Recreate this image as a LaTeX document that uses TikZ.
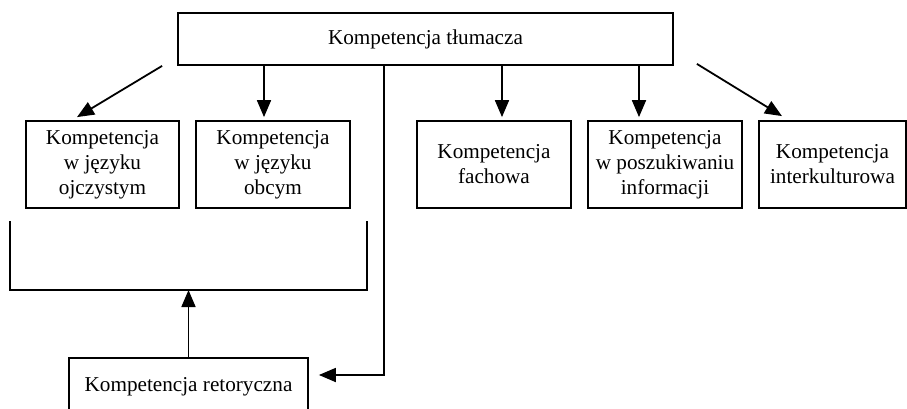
\documentclass[tikz,border=0pt]{standalone}
\usepackage{fontspec}
\setmainfont{Liberation Serif}
\usetikzlibrary{arrows.meta,calc}

\begin{document}
\begin{tikzpicture}[x=0.5pt, y=-0.5pt,
    pole/.style={draw, line width=0.9pt, align=center, inner sep=0pt,
        font=\fontsize{10.6}{12.5}\selectfont},
    wiersz/.style={pole, minimum width=77pt, minimum height=43.5pt},
    pil/.style={-{Triangle[length=8.5pt,width=7pt]}, line width=0.9pt}]
    \useasboundingbox (0,0) rectangle (907,408);

    % main competence
    \node[pole, minimum width=247.5pt, minimum height=26pt] (tlumacz) at (425.5,39) {Kompetencja tłumacza};

    % sub-competences
    \node[wiersz, minimum width=76.5pt] (ojczysty) at (102.5,164.5) {Kompetencja\\w języku\\ojczystym};
    \node[wiersz] (obcy) at (273,164.5) {Kompetencja\\w języku\\obcym};
    \node[wiersz] (fachowa) at (494,164.5) {Kompetencja\\fachowa};
    \node[wiersz] (informacja) at (665,164.5) {Kompetencja\\w poszukiwaniu\\informacji};
    \node[wiersz, minimum width=73.5pt] (kultura) at (832.5,164.5) {Kompetencja\\interkulturowa};

    % rhetorical competence
    \node[pole, minimum width=119.5pt, minimum height=29pt] (retoryczna) at (188.5,387) {Kompetencja retoryczna};

    % arrows from the top box
    \draw[pil] ($(tlumacz.south west)+(-15,0)$) -- ($(ojczysty.north)+(-25.5,-3)$);
    \draw[pil, shorten >=1.5pt] ([xshift=-4.5pt]tlumacz.south -| obcy.north) -- ([xshift=-4.5pt]obcy.north);
    \draw[pil, shorten >=1.5pt] ([xshift=4pt]tlumacz.south -| fachowa.north) -- ([xshift=4pt]fachowa.north);
    \draw[pil, shorten >=1.5pt] ([xshift=-13pt]tlumacz.south -| informacja.north) -- ([xshift=-13pt]informacja.north);
    \draw[pil] ($(tlumacz.south east)+(23,-2)$) -- ($(kultura.north)+(-50.5,-4)$);

    % bracket under the language competences
    \coordinate (klamraL) at (10,221);
    \coordinate (klamraR) at (367,221);
    \coordinate (klamraD) at (10,290);
    \draw[line width=0.9pt] (klamraL) |- (klamraD -| klamraR) -- (klamraR);
    \draw[pil] (retoryczna.north) -- (retoryczna.north |- klamraD);

    % long line down to the rhetorical competence
    \coordinate (zakret) at (384,375);
    \draw[pil, shorten >=5pt] ([xshift=-20.75pt]tlumacz.south) |- (retoryczna.east |- zakret);
\end{tikzpicture}
\end{document}
